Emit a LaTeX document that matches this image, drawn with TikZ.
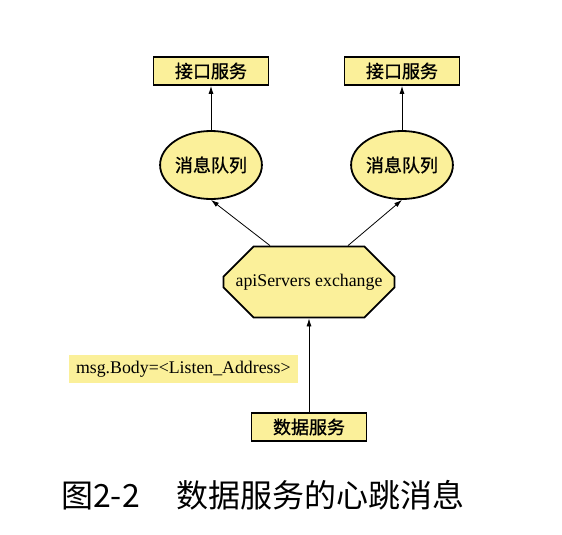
\documentclass[tikz,border=0pt]{standalone}
\usepackage{fontspec}
\setmainfont{Liberation Serif}
\newfontfamily\cjk{Noto Sans CJK SC}
\newfontfamily\cjkbox{Noto Sans CJK SC}[FakeBold=1]
\usetikzlibrary{shapes.misc,shapes.geometric,arrows.meta}
\definecolor{msgyellow}{HTML}{FBF09A}
\tikzset{
  svcbox/.style={rectangle,draw,line width=1.8pt,fill=msgyellow,minimum width=115pt,minimum height=28pt,inner sep=0pt,font=\cjkbox\fontsize{18}{20}\selectfont},
  queue/.style={ellipse,draw,line width=1.8pt,fill=msgyellow,minimum width=92pt,minimum height=68pt,inner sep=0pt,font=\cjkbox\fontsize{18}{20}\selectfont},
  exch/.style={chamfered rectangle,chamfered rectangle xsep=48pt,chamfered rectangle ysep=22pt,draw,line width=1.8pt,fill=msgyellow,minimum width=171pt,minimum height=71pt,inner sep=0pt,font=\fontsize{17.8}{20}\selectfont},
  msgnote/.style={rectangle,fill=msgyellow,minimum height=28pt,inner xsep=7pt,font=\fontsize{17.8}{20}\selectfont},
  link/.style={-{Latex[length=8pt,width=5pt]},line width=0.8pt}
}
\begin{document}
\begin{tikzpicture}[x=1pt,y=-1pt]
  \useasboundingbox (0,0) rectangle (562,535);
  % services and queues
  \node[svcbox] (apiL) at (211,71) {接口服务};
  \node[svcbox] (apiR) at (402,71) {接口服务};
  \node[queue] (queueL) at (211,165) {消息队列};
  \node[queue] (queueR) at (402,165) {消息队列};
  \node[exch] (exchange) at (309,282) {apiServers exchange};
  \node[svcbox] (datasvc) at (309,427) {数据服务};

  % connectors
  \draw[link] (queueL) -- (apiL);
  \draw[link] (queueR) -- (apiR);
  \draw[link] ([xshift=-39pt]exchange.north) -- (queueL.south);
  \draw[link] ([xshift=39pt]exchange.north) -- (queueR.south);
  \draw[link] (datasvc) -- (exchange)
    node[msgnote, pos=0.46, anchor=east, xshift=-11pt] {msg.Body=<Listen\_Address>};

  % caption
  \node[anchor=west, inner sep=0pt, font=\cjk\fontsize{32}{36}\selectfont] (caption) at (61,495) {图2-2\hspace{1.15em}数据服务的心跳消息};
\end{tikzpicture}
\end{document}
